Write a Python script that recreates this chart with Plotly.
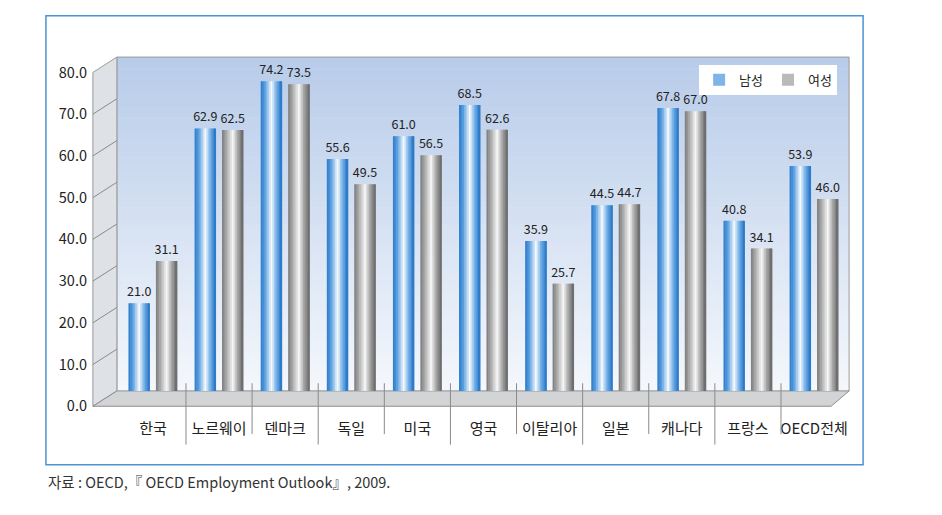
import plotly.graph_objects as go

# ---------------- data ----------------
categories = ['한국', '노르웨이', '덴마크', '독일', '미국', '영국', '이탈리아', '일본', '캐나다', '프랑스', 'OECD전체']
male = [21.0, 62.9, 74.2, 55.6, 61.0, 68.5, 35.9, 44.5, 67.8, 40.8, 53.9]
female = [31.1, 62.5, 73.5, 49.5, 56.5, 62.6, 25.7, 44.7, 67.0, 34.1, 46.0]
series_names = ['남성', '여성']
y_ticks = [0, 10, 20, 30, 40, 50, 60, 70, 80]
source_text = '자료 : OECD,『 OECD Employment Outlook』, 2009.'

# ---------------- geometry helpers (pixels -> paper) ----------------
W, H = 942, 515
def fx(px):
    return px / W
def fy(py):
    return 1 - py / H

BACK_L, BACK_R, BACK_T, BACK_B = 117, 850, 47, 395
PLOT_L, PLOT_R = 120, 848
DX, DY = -24, 16  # front offset of the 3D frame
FONT = 'Noto Sans CJK KR'

def hex2rgb(h):
    h = h.lstrip('#')
    return tuple(int(h[i:i + 2], 16) for i in (0, 2, 4))

def interp(stops, t):
    for (t0, c0), (t1, c1) in zip(stops[:-1], stops[1:]):
        if t0 <= t <= t1:
            a = (t - t0) / (t1 - t0) if t1 > t0 else 0
            r0, g0, b0 = hex2rgb(c0)
            r1, g1, b1 = hex2rgb(c1)
            return 'rgb(%d,%d,%d)' % (round(r0 + (r1 - r0) * a), round(g0 + (g1 - g0) * a), round(b0 + (b1 - b0) * a))
    return stops[-1][1]

blue_stops = [(0, '#2a7acb'), (0.2, '#5a9fdf'), (0.5, '#f4f9fe'), (0.75, '#6aaae4'), (1, '#2373c5')]
grey_stops = [(0, '#7a7a7a'), (0.2, '#a8a8a8'), (0.5, '#f6f6f6'), (0.75, '#a0a0a0'), (1, '#666666')]

BAR_W = 0.325
offsets = [-0.37, 0.045]
N_STRIP = 13

fig = go.Figure()

for si, (vals, stops) in enumerate([(male, blue_stops), (female, grey_stops)]):
    sw = BAR_W / N_STRIP
    for k in range(N_STRIP):
        t = (k + 0.5) / N_STRIP
        last = k == N_STRIP - 1
        fig.add_trace(go.Bar(
            x=categories, y=vals,
            offset=offsets[si] + k * sw,
            width=sw if last else sw * 1.35,
            marker=dict(color=interp(stops, t), line=dict(width=0)),
            name=series_names[si],
            legendgroup=series_names[si],
            showlegend=(k == 3),
            hoverinfo='skip',
        ))
    # value labels
    fig.add_trace(go.Bar(
        x=categories, y=vals,
        offset=offsets[si], width=BAR_W,
        marker=dict(color='rgba(0,0,0,0)', line=dict(width=0)),
        text=['%.1f' % v for v in vals],
        textposition='outside',
        textfont=dict(family=FONT, size=12.5, color='#222222'),
        constraintext='none',
        cliponaxis=False,
        showlegend=False,
        hoverinfo='skip',
    ))

# dummy trace to realise the front value axis
fig.add_trace(go.Scatter(x=[categories[0]], y=[0], yaxis='y2', mode='markers',
                         marker=dict(opacity=0), showlegend=False, hoverinfo='skip'))

# ---------------- decorative shapes ----------------
shapes = []
# back wall gradient
top_c, bot_c = '#b7cbe9', '#f5f8fc'
NB = 60
bh = (BACK_B - BACK_T) / NB
for i in range(NB):
    y0 = BACK_T + i * bh
    c = interp([(0, top_c), (1, bot_c)], (i + 0.5) / NB)
    shapes.append(dict(type='rect', xref='paper', yref='paper', layer='below',
                       x0=fx(BACK_L), x1=fx(BACK_R), y0=fy(y0), y1=fy(y0 + bh + 0.6),
                       fillcolor=c, line=dict(width=0)))
# back wall edges
edge = '#9a9a9a'
shapes.append(dict(type='path', xref='paper', yref='paper', layer='below',
                   path='M %f,%f L %f,%f L %f,%f L %f,%f' % (fx(BACK_L), fy(BACK_B), fx(BACK_L), fy(BACK_T),
                                                           fx(BACK_R), fy(BACK_T), fx(BACK_R), fy(BACK_B)),
                   line=dict(color=edge, width=1)))
# left wall
shapes.append(dict(type='path', xref='paper', yref='paper', layer='below',
                   path='M %f,%f L %f,%f L %f,%f L %f,%f Z' % (fx(BACK_L + DX), fy(BACK_T + DY), fx(BACK_L), fy(BACK_T),
                                                              fx(BACK_L), fy(BACK_B), fx(BACK_L + DX), fy(BACK_B + DY)),
                   fillcolor='#dee1e6', line=dict(color=edge, width=1)))
# floor
shapes.append(dict(type='path', xref='paper', yref='paper', layer='below',
                   path='M %f,%f L %f,%f L %f,%f L %f,%f Z' % (fx(BACK_L), fy(BACK_B), fx(BACK_R), fy(BACK_B),
                                                              fx(BACK_R - 18), fy(BACK_B + DY), fx(BACK_L + DX), fy(BACK_B + DY)),
                   fillcolor='#d3d4d6', line=dict(color='#8c8c8c', width=1)))
# left wall tick lines
scale = (BACK_B - BACK_T) / 80.0
for v in y_ticks[1:-1]:
    yb = BACK_B - v * scale
    shapes.append(dict(type='line', xref='paper', yref='paper', layer='below',
                       x0=fx(BACK_L + DX), y0=fy(yb + DY), x1=fx(BACK_L), y1=fy(yb),
                       line=dict(color='#8a8a8a', width=1)))
# category separators
for i in range(1, len(categories)):
    bottom = 451 if i % 2 == 1 else 440
    shapes.append(dict(type='line', xref='x', yref='paper', layer='above',
                       x0=i - 0.5, x1=i - 0.5, y0=fy(387), y1=fy(bottom),
                       line=dict(color='#8a8a8a', width=1)))
# outer frame
shapes.append(dict(type='rect', xref='paper', yref='paper', layer='above',
                   x0=fx(46), x1=fx(864), y0=fy(472), y1=fy(4),
                   line=dict(color='#4b93d1', width=1.5), fillcolor='rgba(0,0,0,0)'))

fig.update_layout(
    width=W, height=H,
    margin=dict(l=0, r=0, t=0, b=0),
    paper_bgcolor='white', plot_bgcolor='rgba(0,0,0,0)',
    barmode='overlay',
    font=dict(family=FONT, color='#222222'),
    shapes=shapes,
    showlegend=True,
    legend=dict(orientation='h', x=fx(838), xanchor='right', y=fy(55), yanchor='top',
                bgcolor='white', font=dict(family=FONT, size=13, color='#222222'),
                itemwidth=30, traceorder='normal'),
    xaxis=dict(domain=[fx(PLOT_L), fx(PLOT_R)], type='category', range=[-0.5, len(categories) - 0.5],
               showgrid=False, showline=False, zeroline=False,
               ticks='outside', ticklen=24, tickcolor='rgba(0,0,0,0)',
               tickfont=dict(family=FONT, size=15, color='#222222'), anchor='y', fixedrange=True),
    yaxis=dict(domain=[fy(BACK_B), fy(BACK_T)], range=[0, 80], showgrid=False, showline=False,
               zeroline=False, showticklabels=False, ticks='', fixedrange=True),
    yaxis2=dict(domain=[fy(BACK_B + DY), fy(BACK_T + DY)], range=[0, 80], anchor='free',
                position=fx(BACK_L + DX), side='left', tickvals=y_ticks, tickformat='.1f',
                showgrid=False, showline=False, zeroline=False,
                ticks='outside', ticklen=3, tickcolor='rgba(0,0,0,0)',
                tickfont=dict(family=FONT, size=14.5, color='#222222'), fixedrange=True),
    annotations=[dict(text=source_text, xref='paper', yref='paper', x=fx(46), y=fy(489),
                      xanchor='left', yanchor='middle', showarrow=False,
                      font=dict(family=FONT, size=14.5, color='#333333'))],
)

fig.write_html('out.html')
